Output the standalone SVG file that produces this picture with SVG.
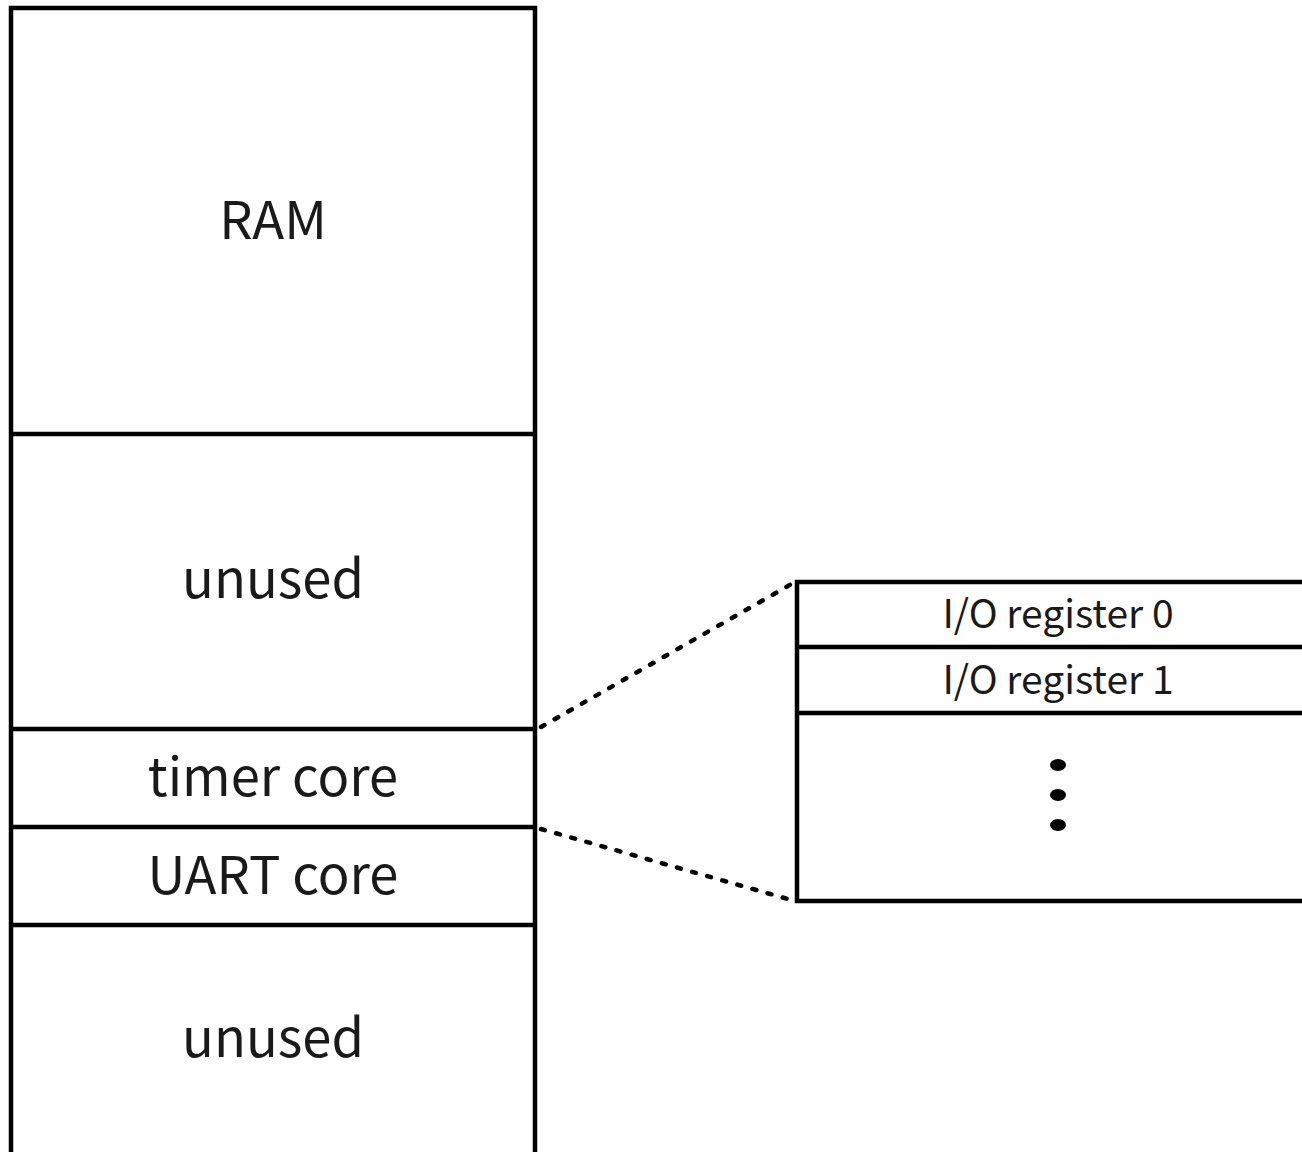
<svg xmlns="http://www.w3.org/2000/svg" width="1302" height="1152" viewBox="0 0 1302 1152">
  <style>
    .box { fill: none; stroke: #000; stroke-width: 4.5; }
    .div { stroke: #000; stroke-width: 4.5; }
    .lbl { font-family: "Noto Sans CJK SC", "Source Sans Pro", "Noto Sans", sans-serif; fill: #1a1a1a; text-anchor: middle; }
    .big { font-size: 52.5px; }
    .small { font-size: 39px; }
    .zoom { fill: none; stroke: #000; stroke-width: 4.5; stroke-linecap: round; stroke-dasharray: 4 11.7; }
  </style>
  <rect width="1302" height="1152" fill="#fff"/>

  <!-- memory map column -->
  <g id="memory-map">
    <path class="box" d="M11 1160 V8 H535 V1160"/>
  </g>
  <g id="ram">
    <text class="lbl big" x="273" y="239">RAM</text>
  </g>
  <g id="unused-high">
    <line class="div" x1="11" y1="434" x2="535" y2="434"/>
    <text class="lbl big" x="273" y="598">unused</text>
  </g>
  <g id="timer-core">
    <line class="div" x1="11" y1="729" x2="535" y2="729"/>
    <text class="lbl big" x="273" y="796">timer core</text>
  </g>
  <g id="uart-core">
    <line class="div" x1="11" y1="827" x2="535" y2="827"/>
    <text class="lbl big" x="273" y="894">UART core</text>
  </g>
  <g id="unused-low">
    <line class="div" x1="11" y1="925" x2="535" y2="925"/>
    <text class="lbl big" x="273" y="1057">unused</text>
  </g>

  <!-- register detail of the timer core -->
  <g id="registers">
    <path class="box" d="M1310 582 H797 V901 H1310"/>
    <line class="div" x1="797" y1="647" x2="1310" y2="647"/>
    <line class="div" x1="797" y1="713" x2="1310" y2="713"/>
  </g>
  <g id="reg0">
    <text class="lbl small" x="1058" y="628">I/O register 0</text>
  </g>
  <g id="reg1">
    <text class="lbl small" x="1058" y="694">I/O register 1</text>
  </g>
  <g id="reg-more">
    <ellipse cx="1058" cy="765" rx="8" ry="6"/>
    <ellipse cx="1058" cy="795" rx="8" ry="6"/>
    <ellipse cx="1058" cy="825" rx="8" ry="6"/>
  </g>

  <!-- zoom guides -->
  <g id="connectors">
    <line class="zoom" x1="541" y1="727" x2="795" y2="582"/>
    <line class="zoom" x1="541" y1="829" x2="795" y2="901"/>
  </g>
</svg>
